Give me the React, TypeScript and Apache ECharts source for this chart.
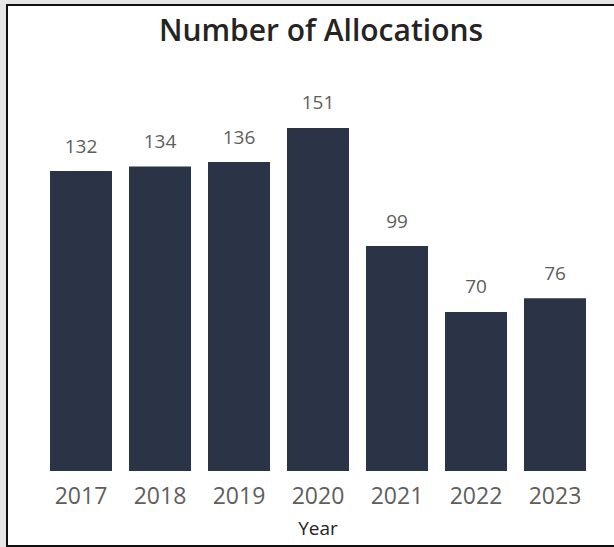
import React, { useEffect, useRef } from "react";
import * as echarts from "echarts";

const years = ["2017", "2018", "2019", "2020", "2021", "2022", "2023"];
const allocations = [132, 134, 136, 151, 99, 70, 76];
const titleText = "Number of Allocations";
const xAxisName = "Year";

const FONT = "'Segoe UI', 'Open Sans', 'Noto Sans', sans-serif";

export default function App() {
  const ref = useRef<HTMLDivElement>(null);
  useEffect(() => {
    if (!ref.current) return;
    const chart = echarts.init(ref.current, null, { renderer: "svg" });
    chart.setOption({
      animation: false,
      textStyle: { fontFamily: FONT },
      title: {
        text: titleText,
        left: 316,
        textAlign: "center",
        top: 9,
        textStyle: { fontSize: 30, fontWeight: 600, color: "#252423", fontFamily: FONT },
      },
      grid: { left: 41.5, right: 19.5, top: 107.5, bottom: 76, containLabel: false },
      xAxis: {
        type: "category",
        data: years,
        axisLine: { show: false },
        axisTick: { show: false },
        axisLabel: { fontSize: 23, color: "#605e5c", margin: 12, fontFamily: FONT },
        name: xAxisName,
        nameLocation: "middle",
        nameGap: 47,
        nameTextStyle: { fontSize: 19, color: "#252423", fontFamily: FONT },
      },
      yAxis: {
        type: "value",
        min: 0,
        max: 160,
        show: false,
        splitLine: { show: false },
      },
      series: [
        {
          type: "bar",
          data: allocations,
          barCategoryGap: "21.5%",
          itemStyle: { color: "#2b3447" },
          label: {
            show: true,
            position: "top",
            distance: 16,
            fontSize: 19,
            color: "#605e5c",
            fontFamily: FONT,
          },
        },
      ],
    });
    return () => chart.dispose();
  }, []);
  return (
    <div style={{ position: "fixed", left: 0, top: 0, width: 614, height: 547, background: "#e6e6e6" }}>
      <div
        style={{
          position: "absolute",
          left: 6,
          top: 4,
          width: 608,
          height: 543,
          boxSizing: "border-box",
          background: "#fff",
          borderLeft: "2px solid #111",
          borderTop: "2px solid #111",
          borderBottom: "2px solid #111",
        }}
      />
      <div ref={ref} style={{ position: "absolute", left: 0, top: 0, width: 614, height: 547 }} />
    </div>
  );
}
